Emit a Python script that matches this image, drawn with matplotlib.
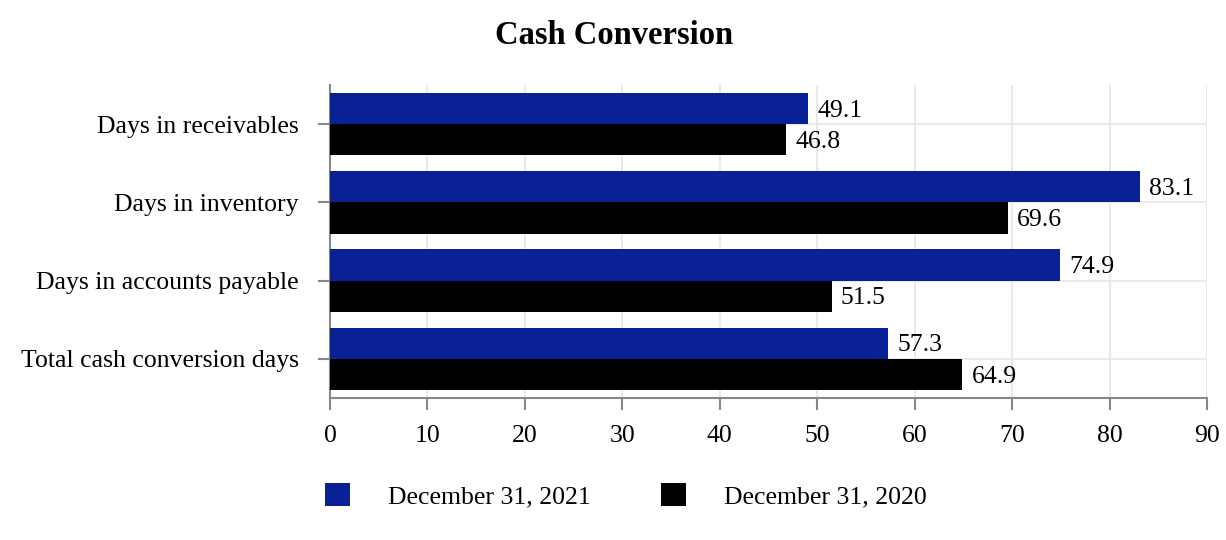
import matplotlib
matplotlib.use("Agg")
import matplotlib.pyplot as plt
import numpy as np
from matplotlib.patches import Patch

categories = ["Days in receivables", "Days in inventory", "Days in accounts payable", "Total cash conversion days"]
series_names = ["December 31, 2021", "December 31, 2020"]
values_2021 = [49.1, 83.1, 74.9, 57.3]
values_2020 = [46.8, 69.6, 51.5, 64.9]
x_ticks = [0, 10, 20, 30, 40, 50, 60, 70, 80, 90]

colors = ["#0A2196", "#000000"]

plt.rcParams['font.family'] = ['Liberation Serif', 'DejaVu Serif']
FS = 18.5

fig = plt.figure(figsize=(12.26, 5.4), dpi=100)
ax = fig.add_axes([330/1226, 1-398/540, (1207-330)/1226, (398-85)/540])

y = np.arange(len(categories))
h = 0.4
b1 = ax.barh(y - h/2, values_2021, height=h, color=colors[0], zorder=3)
b2 = ax.barh(y + h/2, values_2020, height=h, color=colors[1], zorder=3)

for bars, vals in ((b1, values_2021), (b2, values_2020)):
    for bar, v in zip(bars, vals):
        ax.annotate(f"{v:.1f}", (v, bar.get_y() + bar.get_height()/2),
                    xytext=(6.5, -1.5), textcoords="offset points",
                    va="center", ha="left", fontsize=FS, color="black", zorder=4)

ax.set_ylim(len(categories) - 0.5, -0.5)
ax.set_xlim(0, 90)
ax.set_yticks(y)
ax.set_yticklabels(categories, fontsize=FS)
ax.set_xticks(x_ticks)
ax.set_xticklabels([str(t) for t in x_ticks], fontsize=FS)
ax.grid(True, color="#e6e6e6", linewidth=1.2, zorder=0)
ax.set_axisbelow(True)
for s in ("top", "right"):
    ax.spines[s].set_visible(False)
for s in ("left", "bottom"):
    ax.spines[s].set_color("#888888")
    ax.spines[s].set_linewidth(1.5)
ax.tick_params(axis="both", colors="#888888", labelcolor="black", length=8.5, width=1.5)
ax.tick_params(axis="y", pad=14)
ax.tick_params(axis="x", pad=11)

fig.text(614/1226, 1-35/540, "Cash Conversion", ha="center", va="center", fontsize=23.5, fontweight="bold")

handles = [Patch(facecolor=colors[0]), Patch(facecolor=colors[1])]
fig.legend(handles, series_names, loc="center", bbox_to_anchor=(626/1226, 1-496/540),
           ncol=2, frameon=False, fontsize=FS, handlelength=0.97, handleheight=0.97,
           handletextpad=1.48, columnspacing=2.72)

fig.savefig("out.png", dpi=100)
